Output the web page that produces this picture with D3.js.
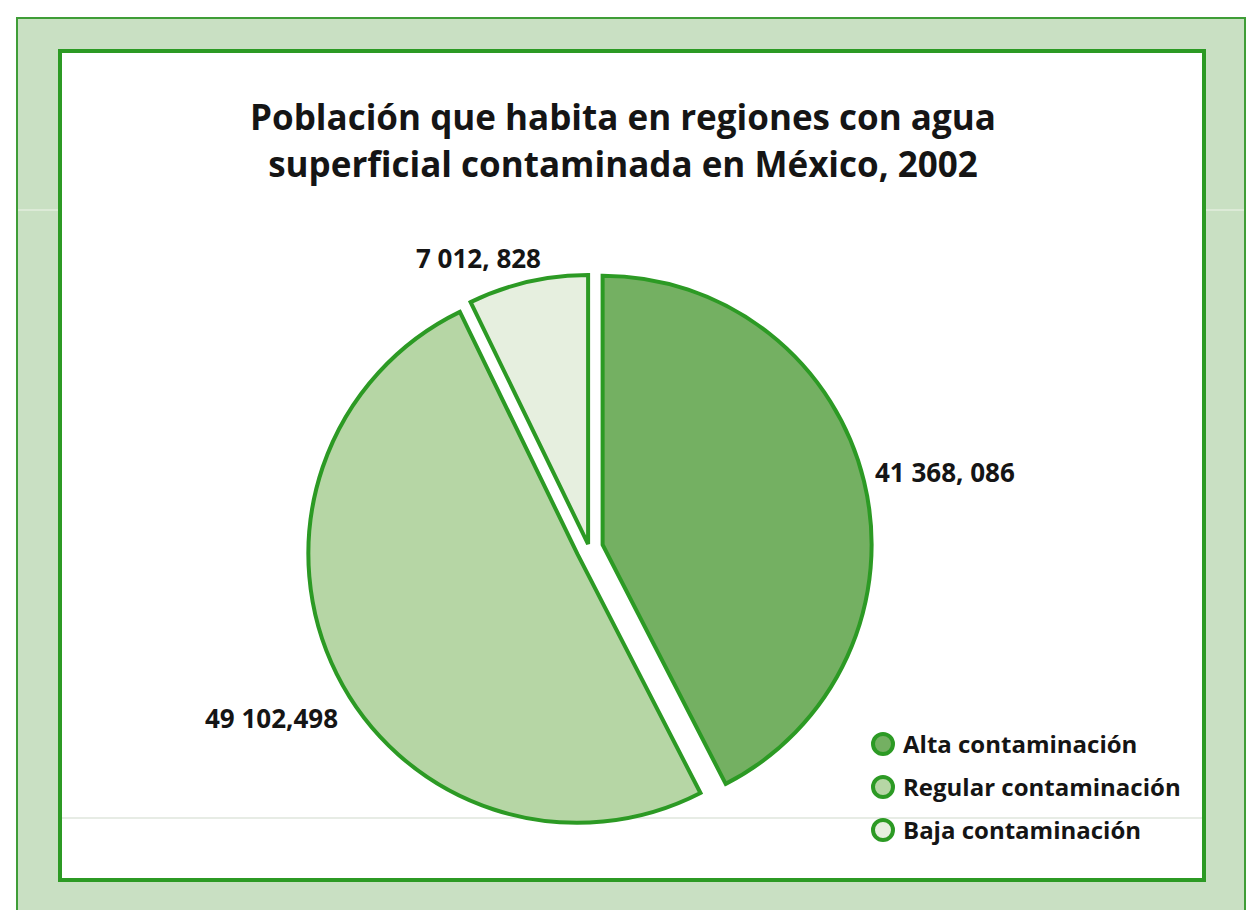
<!DOCTYPE html>
<html>
<head>
<meta charset="utf-8">
<script src="https://cdn.jsdelivr.net/npm/d3@7"></script>
<style>
  body { margin: 0; background: #fff; }
  svg { display: block; font-family: "Open Sans", "Noto Sans", sans-serif; }
</style>
</head>
<body>
<svg id="chart" width="1260" height="910"></svg>
<script>
// data
const categories = ['Alta contaminación', 'Regular contaminación', 'Baja contaminación'];
const population = [41368086, 49102498, 7012828];
const valueLabels = ['41 368, 086', '49 102,498', '7 012, 828'];
const titleLines = ['Población que habita en regiones con agua', 'superficial contaminada en México, 2002'];

// layout / style
const fills = ['#74b062', '#b6d6a5', '#e6efdf'];
const strokeGreen = '#2c9a24';
const explode = [14, 13, 4];
const labelPos = [[875, 482], [205, 728], [416, 268]];

const svg = d3.select('#chart');

// frame
svg.append('rect')
    .attr('x', 17).attr('y', 18)
    .attr('width', 1228).attr('height', 920)
    .attr('fill', '#c9e0c3')
    .attr('stroke', '#3f9d37')
    .attr('stroke-width', 2);

svg.append('line')
    .attr('x1', 18).attr('x2', 1244)
    .attr('y1', 210).attr('y2', 210)
    .attr('stroke', '#e2eede').attr('stroke-width', 1.5);

svg.append('rect')
    .attr('x', 60).attr('y', 51)
    .attr('width', 1144).attr('height', 829)
    .attr('fill', '#fff')
    .attr('stroke', strokeGreen)
    .attr('stroke-width', 4);

svg.append('line')
    .attr('x1', 62).attr('x2', 1202)
    .attr('y1', 818).attr('y2', 818)
    .attr('stroke', '#dfe6dc').attr('stroke-width', 1.5);

// title
svg.append('text')
    .attr('x', 623).attr('y', 130)
    .attr('text-anchor', 'middle')
    .attr('font-size', 35)
    .attr('font-weight', 700)
    .attr('fill', '#151515')
    .selectAll('tspan')
    .data(titleLines)
    .enter()
    .append('tspan')
    .attr('x', 623)
    .attr('dy', (d, i) => i ? 47 : 0)
    .text(d => d);

// pie
const cx = 589, cy = 548, r = 269;
const pie = d3.pie().sort(null).startAngle(0).endAngle(2 * Math.PI);
const arc = d3.arc().innerRadius(0).outerRadius(r);
const arcs = pie(population);

const g = svg.append('g').attr('transform', `translate(${cx},${cy})`);

g.selectAll('path')
    .data(arcs)
    .enter()
    .append('path')
    .attr('transform', (d, i) => {
        const mid = (d.startAngle + d.endAngle) / 2;
        return `translate(${Math.sin(mid) * explode[i]},${-Math.cos(mid) * explode[i]})`;
    })
    .attr('d', arc)
    .attr('fill', (d, i) => fills[i])
    .attr('stroke', strokeGreen)
    .attr('stroke-width', 4)
    .attr('stroke-linejoin', 'miter');

// value labels
svg.selectAll('.val')
    .data(valueLabels)
    .enter()
    .append('text')
    .attr('class', 'val')
    .attr('x', (d, i) => labelPos[i][0])
    .attr('y', (d, i) => labelPos[i][1])
    .attr('font-size', 26)
    .attr('font-weight', 700)
    .attr('fill', '#151515')
    .text(d => d);

// legend
const legend = svg.append('g').attr('transform', 'translate(883,744)');
const items = legend.selectAll('g')
    .data(categories)
    .enter()
    .append('g')
    .attr('transform', (d, i) => `translate(0,${i * 43})`);

items.append('circle')
    .attr('r', 10)
    .attr('fill', (d, i) => fills[i])
    .attr('stroke', strokeGreen)
    .attr('stroke-width', 4);

items.append('text')
    .attr('x', 20)
    .attr('y', 9)
    .attr('font-size', 24)
    .attr('font-weight', 700)
    .attr('fill', '#151515')
    .text(d => d);
</script>
</body>
</html>
